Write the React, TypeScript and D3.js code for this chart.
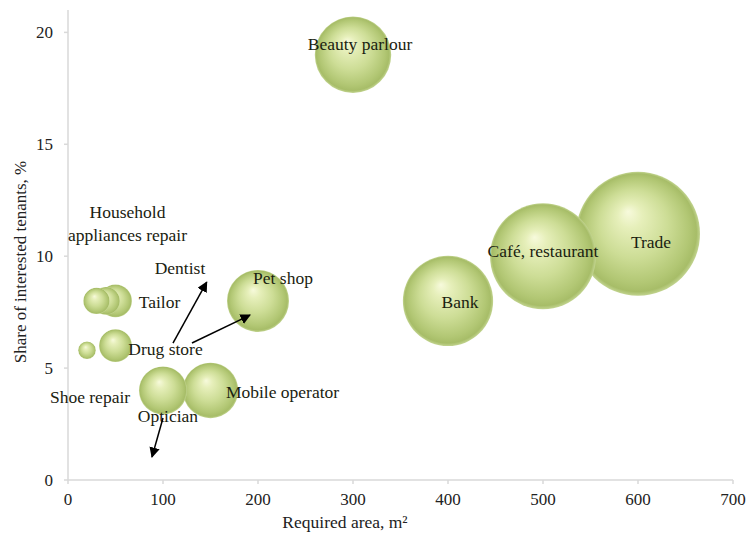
import React from "react";
import * as d3 from "d3";

// Bubble chart: required area vs share of interested tenants
const names = [
  "Trade",
  "Café, restaurant",
  "Bank",
  "Beauty parlour",
  "Pet shop",
  "Mobile operator",
  "Optician",
  "Drug store",
  "Tailor",
  "Dentist",
  "Household appliances repair",
  "Shoe repair",
];
const areas = [600, 500, 400, 300, 200, 150, 100, 50, 50, 40, 30, 20];
const shares = [11, 10, 8, 19, 8, 4, 4, 6, 8, 8, 8, 5.8];
const sizes = [100, 73, 53, 38, 25, 20, 15, 7, 7, 5, 4.5, 2];

const xTicks = [0, 100, 200, 300, 400, 500, 600, 700];
const yTicks = [0, 5, 10, 15, 20];

// annotation arrows in data units: [x1, y1, x2, y2]
const arrows = [
  [110.5, 6.12, 146, 8.84],
  [130.5, 6.12, 191.6, 7.37],
  [100, 2.77, 88.4, 1.03],
];

// label offsets from bubble centre (px)
const labelOffset: Record<string, [number, number][]> = {
  "Trade": [[13, 8]],
  "Café, restaurant": [[0, -5]],
  "Bank": [[12, 1]],
  "Beauty parlour": [[7, -11]],
  "Pet shop": [[25, -23]],
  "Mobile operator": [[72, 2]],
  "Optician": [[5, 26]],
  "Drug store": [[50, 3]],
  "Tailor": [[44, 1]],
  "Dentist": [[74, -33]],
  "Household appliances repair": [[31, -89], [31, -66]],
  "Shoe repair": [[3, 47]],
};

const width = 746;
const height = 540;
const margin = { top: 10, right: 13, bottom: 60, left: 68 };

export default function App() {
  const x = d3.scaleLinear().domain([0, 700]).range([margin.left, width - margin.right]);
  const y = d3.scaleLinear().domain([0, 21]).range([height - margin.bottom, margin.top]);
  const r = d3.scaleSqrt().domain([0, 100]).range([0, 62]);

  const order = d3.range(names.length).sort((a, b) => sizes[b] - sizes[a]);
  const font = "Liberation Serif, Times New Roman, serif";
  const axisColor = "#d9d9d9";

  return (
    <svg
      width={width}
      height={height}
      style={{ position: "absolute", left: 0, top: 0, background: "#fff", fontFamily: font }}
    >
      <defs>
        <radialGradient id="ball" cx="0.5" cy="0.5" r="0.5" fx="0.42" fy="0.32">
          <stop offset="0%" stopColor="#f7fadc" />
          <stop offset="20%" stopColor="#e6efba" />
          <stop offset="55%" stopColor="#cddd96" />
          <stop offset="85%" stopColor="#b2c774" />
          <stop offset="95%" stopColor="#a7bd68" />
          <stop offset="100%" stopColor="#c2d490" />
        </radialGradient>
        <marker id="head" viewBox="0 0 10 10" refX="9" refY="5" markerWidth="7" markerHeight="7" orient="auto">
          <path d="M0,0 L10,5 L0,10 z" fill="#000" />
        </marker>
      </defs>

      {/* axes */}
      <line x1={x(0)} x2={x(700)} y1={y(0)} y2={y(0)} stroke={axisColor} strokeWidth={1.5} />
      <line x1={x(0)} x2={x(0)} y1={y(0)} y2={y(21)} stroke={axisColor} strokeWidth={1.5} />
      {xTicks.map((t) => (
        <g key={"x" + t}>
          <line x1={x(t)} x2={x(t)} y1={y(0)} y2={y(0) + 4} stroke={axisColor} strokeWidth={1.5} />
          <text x={x(t)} y={y(0) + 25} textAnchor="middle" fontSize={17} fill="#222">
            {t}
          </text>
        </g>
      ))}
      {yTicks.map((t) => (
        <g key={"y" + t}>
          <line x1={x(0) - 4} x2={x(0)} y1={y(t)} y2={y(t)} stroke={axisColor} strokeWidth={1.5} />
          <text x={x(0) - 15} y={y(t) + 6} textAnchor="end" fontSize={17} fill="#222">
            {t}
          </text>
        </g>
      ))}

      <text x={345} y={528} textAnchor="middle" fontSize={17.5} fill="#222">
        Required area, m²
      </text>
      <text
        transform={`translate(26,262) rotate(-90)`}
        textAnchor="middle"
        fontSize={17}
        fill="#222"
      >
        Share of interested tenants, %
      </text>

      {/* bubbles, largest first */}
      {order.map((i) => (
        <circle key={names[i]} cx={x(areas[i])} cy={y(shares[i])} r={r(sizes[i])} fill="url(#ball)" />
      ))}

      {/* labels */}
      {names.map((n, i) => {
        const lines = n === "Household appliances repair" ? ["Household", "appliances repair"] : [n];
        return lines.map((s, k) => (
          <text
            key={n + k}
            x={x(areas[i]) + labelOffset[n][k][0]}
            y={y(shares[i]) + labelOffset[n][k][1] + 6}
            textAnchor="middle"
            fontSize={17.5}
            fill="#1a2210"
          >
            {s}
          </text>
        ));
      })}

      {/* arrows */}
      {arrows.map((a, i) => (
        <line
          key={"a" + i}
          x1={x(a[0])}
          y1={y(a[1])}
          x2={x(a[2])}
          y2={y(a[3])}
          stroke="#000"
          strokeWidth={1.5}
          markerEnd="url(#head)"
        />
      ))}
    </svg>
  );
}
